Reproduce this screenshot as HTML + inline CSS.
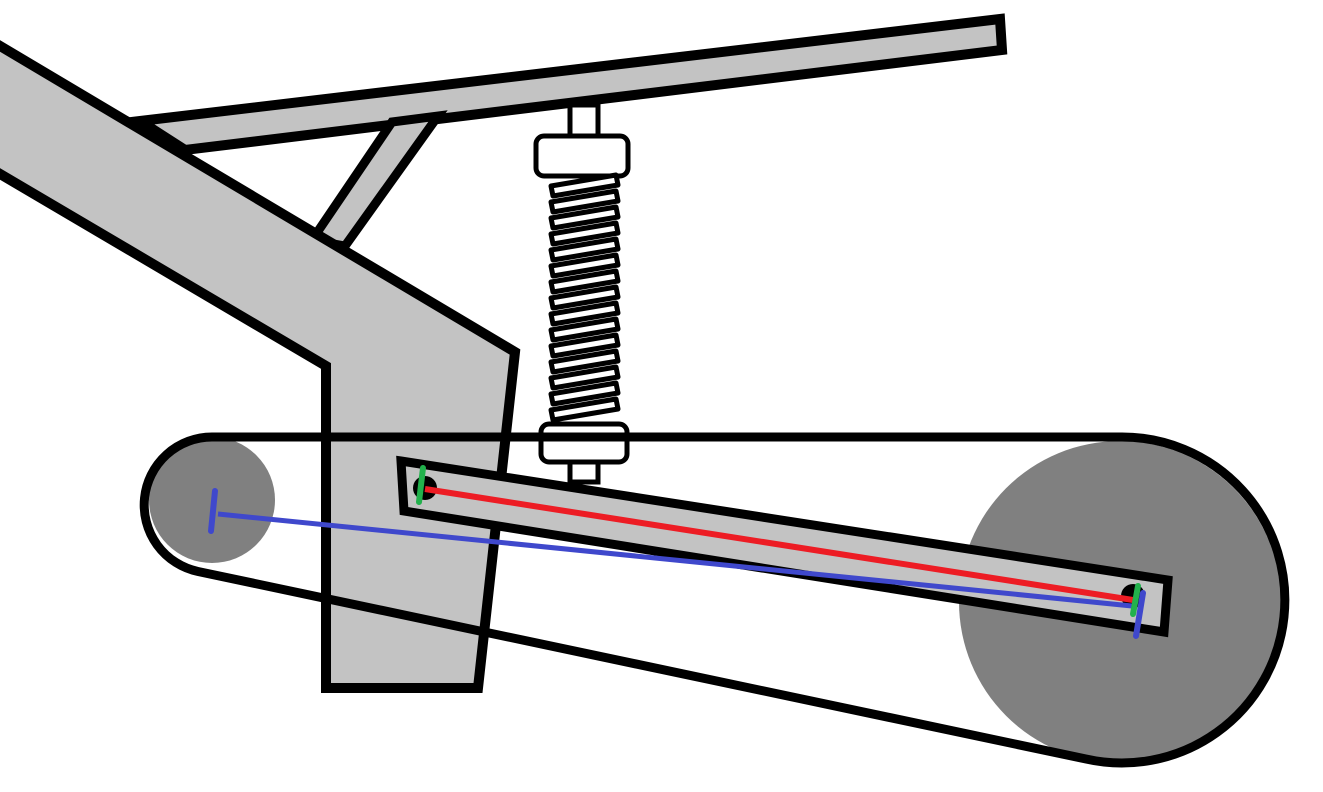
<!DOCTYPE html>
<html><head><style>html,body{margin:0;padding:0;background:#fff;width:1323px;height:792px;overflow:hidden}</style></head>
<body>
<svg width="1323" height="792" viewBox="0 0 1323 792" xmlns="http://www.w3.org/2000/svg">
<rect width="1323" height="792" fill="#fff"/>
<!-- top bar -->
<polygon points="140,121 1000,19 1002,50 185,150" fill="#c3c3c3" stroke="#000" stroke-width="10" stroke-linejoin="miter"/>
<!-- strut -->
<polygon points="392,122 438,116 345,246 312,240" fill="#c3c3c3" stroke="#000" stroke-width="9"/>
<!-- beam -->
<polygon points="-10,40 515,352 478,688 326,688 326,366 -10,168" fill="#c3c3c3" stroke="#000" stroke-width="10" stroke-linejoin="miter"/>
<!-- spring rods and caps -->
<rect x="570" y="105" width="28" height="32" fill="#fff" stroke="#000" stroke-width="5"/>
<rect x="536" y="136" width="92" height="40" rx="8" fill="#fff" stroke="#000" stroke-width="5"/>
<g fill="#fff" stroke="#000" stroke-width="5" stroke-linejoin="round">
<polygon points="551,186 616,175 618,185 553,196"/>
<polygon points="551,202 616,191 618,201 553,212"/>
<polygon points="551,218 616,207 618,217 553,228"/>
<polygon points="551,234 616,223 618,233 553,244"/>
<polygon points="551,250 616,239 618,249 553,260"/>
<polygon points="551,266 616,255 618,265 553,276"/>
<polygon points="551,282 616,271 618,281 553,292"/>
<polygon points="551,298 616,287 618,297 553,308"/>
<polygon points="551,314 616,303 618,313 553,324"/>
<polygon points="551,330 616,319 618,329 553,340"/>
<polygon points="551,346 616,335 618,345 553,356"/>
<polygon points="551,362 616,351 618,361 553,372"/>
<polygon points="551,378 616,367 618,377 553,388"/>
<polygon points="551,394 616,383 618,393 553,404"/>
<polygon points="551,410 616,399 618,409 553,420"/>
</g>
<rect x="570" y="458" width="28" height="24" fill="#fff" stroke="#000" stroke-width="5"/>
<rect x="541" y="424" width="86" height="38" rx="8" fill="#fff" stroke="#000" stroke-width="5"/>
<!-- pulleys -->
<circle cx="212" cy="500" r="63" fill="#808080"/>
<circle cx="1120" cy="602" r="161" fill="#808080"/>
<!-- belt -->
<path d="M212,437 L1120,437 A163,163 0 1 1 1086,759 L198,571.5 A68,68 0 0 1 212,437 Z" fill="none" stroke="#000" stroke-width="9"/>
<!-- swing arm -->
<polygon points="401,461 1168,580 1164,632 404,511" fill="#c3c3c3" stroke="#000" stroke-width="9"/>
<circle cx="425" cy="488" r="12" fill="#000"/>
<circle cx="1133" cy="596" r="12" fill="#000"/>
<!-- measurement lines -->
<line x1="218" y1="514" x2="1132" y2="606" stroke="#3f48cc" stroke-width="5"/>
<line x1="425" y1="489" x2="1133" y2="600" stroke="#ed1c24" stroke-width="6"/>
<line x1="215" y1="491" x2="211" y2="531" stroke="#3f48cc" stroke-width="6" stroke-linecap="round"/>
<line x1="1143" y1="593" x2="1136" y2="636" stroke="#3f48cc" stroke-width="6" stroke-linecap="round"/>
<line x1="423" y1="468" x2="419" y2="502" stroke="#22b14c" stroke-width="6" stroke-linecap="round"/>
<line x1="1138" y1="586" x2="1133" y2="614" stroke="#22b14c" stroke-width="6" stroke-linecap="round"/>
</svg>
</body></html>
